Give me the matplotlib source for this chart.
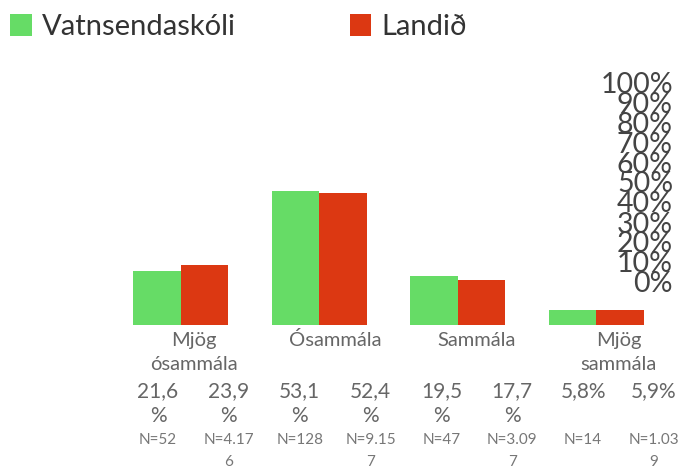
import textwrap
import matplotlib
matplotlib.use("Agg")
import matplotlib.pyplot as plt
import numpy as np

plt.rcParams['font.family'] = ['Lato', 'DejaVu Sans']

# data
categories = ["Mjög ósammála", "Ósammála", "Sammála", "Mjög sammála"]
series_names = ["Vatnsendaskóli", "Landið"]
school_pct = [21.6, 53.1, 19.5, 5.8]
country_pct = [23.9, 52.4, 17.7, 5.9]
school_n = ["52", "128", "47", "14"]
country_n = ["4.176", "9.157", "3.097", "1.039"]
y_ticks = list(range(0, 101, 10))

green = "#66dc66"
red = "#dc3812"

W, H = 683.0, 467.0
fig = plt.figure(figsize=(W / 100, H / 100), dpi=100)

# bar axes: baseline 325px from top, 100% = 252px
ax = fig.add_axes([0, (H - 325) / H, 1, 252 / H])
x = np.arange(len(categories))
w = 0.343
b1 = ax.bar(x - w / 2, school_pct, w, color=green, label=series_names[0])
b2 = ax.bar(x + w / 2, country_pct, w, color=red, label=series_names[1])
ax.set_xlim(-1.307, 3.625)
ax.set_ylim(0, 100)
ax.axis('off')

# label axes: its own column grid, y measured in pixels from the top
lab = fig.add_axes([122.6 / W, 0, 566.8 / W, 1])
lab.set_xlim(-0.5, 3.5)
lab.set_ylim(H, 0)
lab.axis('off')


def put_lines(xpos, text, y0, dy, **kw):
    for j, line in enumerate(text.split("\n")):
        lab.text(xpos, y0 + j * dy, line, ha='center', va='baseline', **kw)


for i, cat in enumerate(categories):
    put_lines(i, textwrap.fill(cat, 9), 346, 24, fontsize=14.5, color="#666666")
    for off, v, n in [(-0.25, school_pct[i], school_n[i]),
                      (0.25, country_pct[i], country_n[i])]:
        pct = textwrap.fill(f"{v:.1f}".replace(".", ",") + "%", 4)
        put_lines(i + off, pct, 397, 25, fontsize=15, color="#666666")
        put_lines(i + off, textwrap.fill("N=" + n, 6), 444, 22, fontsize=11,
                  color="#777777")

# the crowded percentage scale on the right
ax2 = fig.add_axes([673 / W, (H - 325) / H, 0.001, 252 / H])
ax2.set_ylim(-21.5, 104.5)
ax2.set_yticks(y_ticks)
ax2.set_yticklabels([f"{t}%" for t in y_ticks], fontsize=20.5, color="#444444")
ax2.tick_params(axis='y', length=0, pad=0)
ax2.set_xticks([])
for s in ax2.spines.values():
    s.set_visible(False)
ax2.patch.set_visible(False)

fig.legend(handles=[b1, b2], loc='upper left', bbox_to_anchor=(10 / W, 1 - 14 / H),
           ncol=2, frameon=False, handlelength=0.75, handleheight=0.75,
           handletextpad=0.34, columnspacing=3.9, borderpad=0, borderaxespad=0,
           labelcolor="#333333", prop={'size': 21})

fig.savefig("out.png", dpi=100)
